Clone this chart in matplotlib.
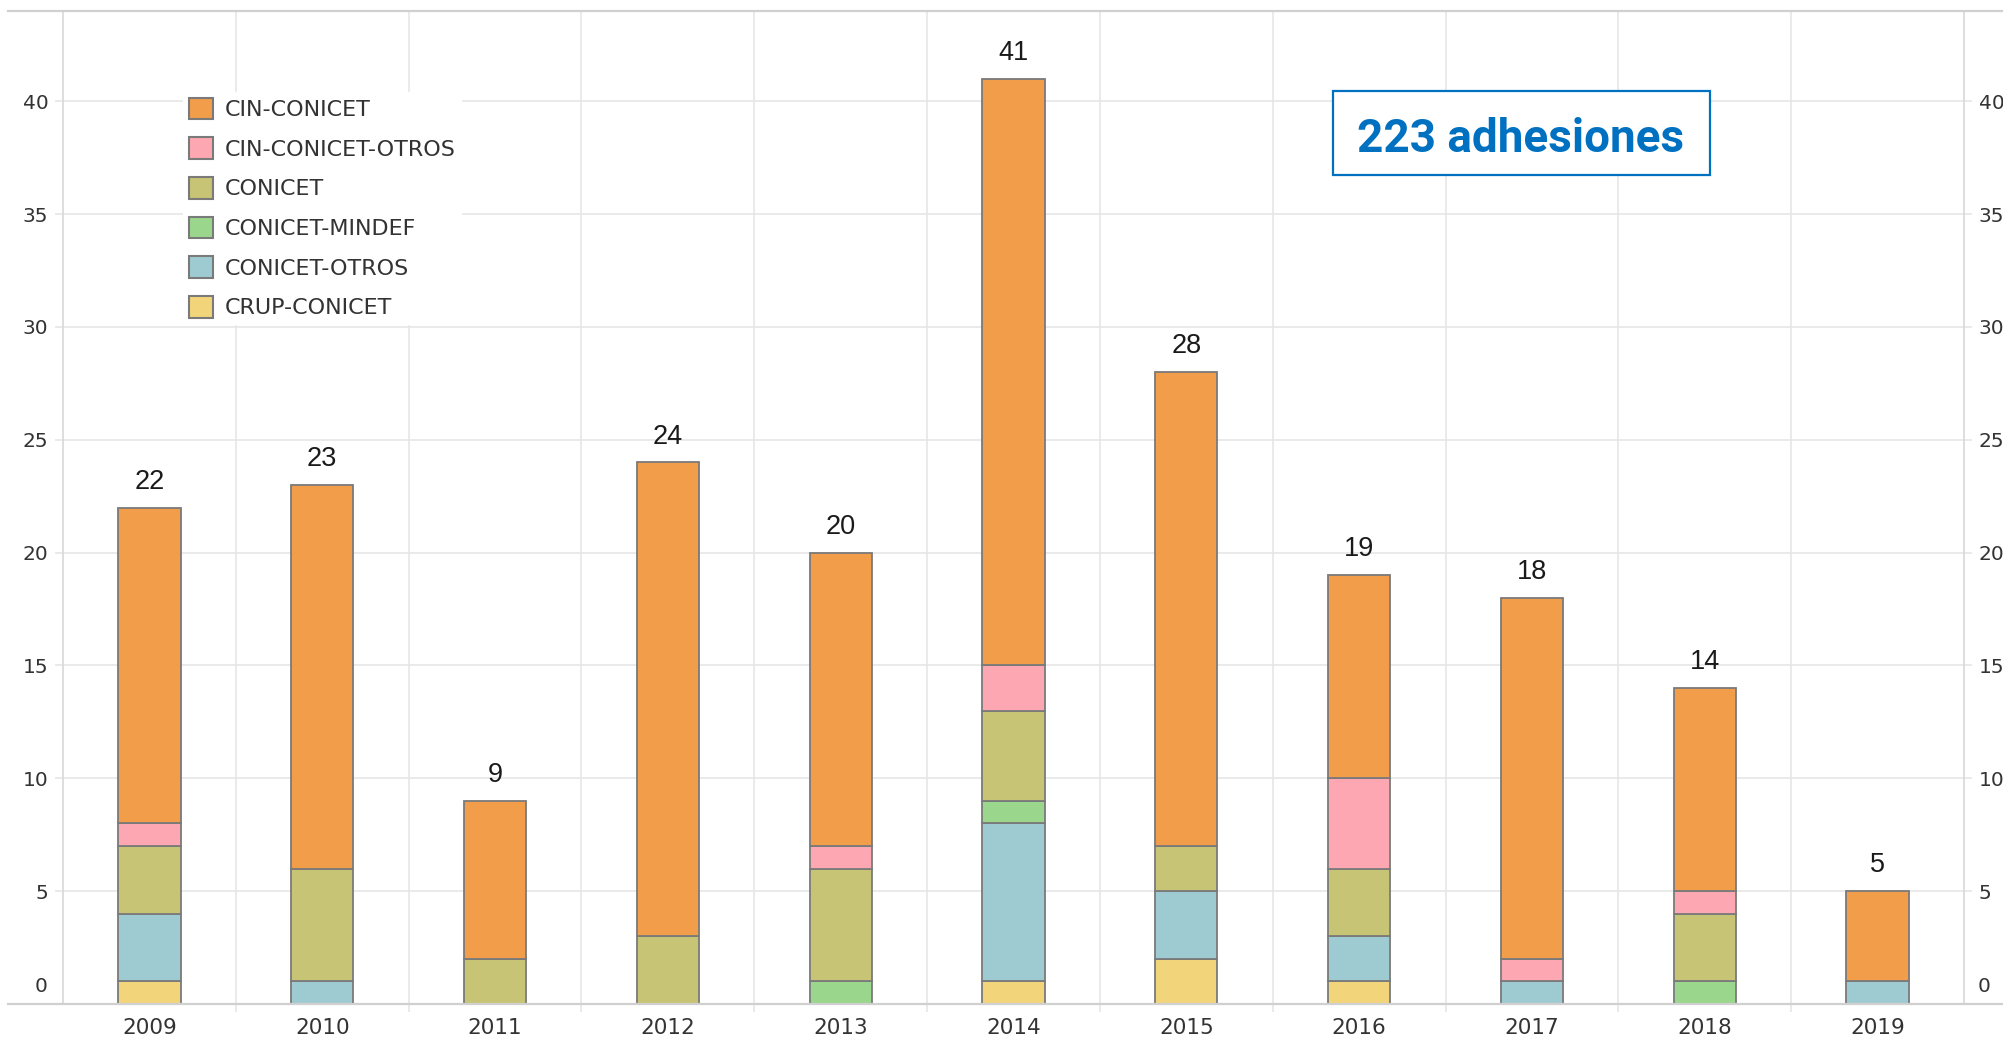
import matplotlib.pyplot as plt
from matplotlib.patches import Patch, Rectangle
from matplotlib.lines import Line2D
import numpy as np

anios = ['2009', '2010', '2011', '2012', '2013', '2014', '2015', '2016', '2017', '2018', '2019']

# orden de apilado: de abajo hacia arriba
crup_conicet = [1, 0, 0, 0, 0, 1, 2, 1, 0, 0, 0]
conicet_otros = [3, 1, 0, 0, 0, 7, 3, 2, 1, 0, 1]
conicet_mindef = [0, 0, 0, 0, 1, 1, 0, 0, 0, 1, 0]
conicet = [3, 5, 2, 3, 5, 4, 2, 3, 0, 3, 0]
cin_conicet_otros = [1, 0, 0, 0, 1, 2, 0, 4, 1, 1, 0]
cin_conicet = [14, 17, 7, 21, 13, 26, 21, 9, 16, 9, 4]

series = [
    ('CRUP-CONICET', crup_conicet, '#F2D57A'),
    ('CONICET-OTROS', conicet_otros, '#9ECBD1'),
    ('CONICET-MINDEF', conicet_mindef, '#9AD68C'),
    ('CONICET', conicet, '#C7C475'),
    ('CIN-CONICET-OTROS', cin_conicet_otros, '#FDA7B2'),
    ('CIN-CONICET', cin_conicet, '#F29D4A'),
]

FUENTE = ['DejaVu Sans']
W, H = 2003, 1041
fig = plt.figure(figsize=(W / 100, H / 100), dpi=100)
ax = fig.add_axes([63 / W, (H - 1004) / H, (1964 - 63) / W, (1004 - 11) / H])

x = np.arange(len(anios))
base = np.zeros(len(anios))
for nombre, vals, color in series:
    vals = np.array(vals)
    ax.bar(x, vals, width=0.36, bottom=base, color=color, edgecolor='#7a7a7a',
           linewidth=1.3, zorder=3)
    base = base + vals

for i, total in enumerate(base):
    ax.annotate(f'{int(total)}', (x[i], total), xytext=(0, 13.5), textcoords='offset points',
                ha='center', va='baseline', fontsize=19.5, color='#1a1a1a',
                family=['Liberation Sans', 'DejaVu Sans'])

ax.set_xlim(-0.5, len(anios) - 0.5)
ax.set_ylim(0, 44)

# grilla
yt = np.arange(0, 45, 5)
ax.set_yticks(yt)
ax.set_yticklabels(['' if v == 0 else str(v) for v in yt])
ax.yaxis.grid(True, color='#e6e6e6', linewidth=1.2, zorder=0)
ax.vlines(x[:-1] + 0.5, -0.35, 44, color='#e6e6e6', linewidth=1.2, zorder=0, clip_on=False)

ax.set_xticks(x)
ax.set_xticklabels(anios)
ax.tick_params(axis='x', length=0, pad=10, labelsize=15.5, labelcolor='#333333')
ax.tick_params(axis='y', which='both', left=True, right=True, labelleft=True, labelright=True,
               length=6, color='#e6e6e6', width=1.2, pad=4.5, labelsize=14.5, labelcolor='#333333')
for lab in ax.get_xticklabels() + ax.get_yticklabels():
    lab.set_family(FUENTE)

# el cero va un poco por encima de la linea base
for xf, ha in [(48 / W, 'right'), (1978 / W, 'left')]:
    fig.text(xf, 1 - 987 / H, '0', ha=ha, va='center', fontsize=14.5, color='#333333',
             family=FUENTE)

for s in ['top', 'bottom']:
    ax.spines[s].set_visible(False)
for s in ['left', 'right']:
    ax.spines[s].set_color('#d8d8d8')
    ax.spines[s].set_linewidth(1.2)

for yp in [11, 1004]:
    fig.add_artist(Line2D([8 / W, 1.0], [1 - yp / H, 1 - yp / H], color='#d0d0d0', linewidth=1.6))

# leyenda
handles = [Patch(facecolor=c, edgecolor='#7a7a7a', linewidth=1.5, label=n) for n, v, c in series[::-1]]
leg = ax.legend(handles=handles, loc='upper left', bbox_to_anchor=(183 / W, 1 - 92 / H),
                bbox_transform=fig.transFigure, frameon=True, fancybox=False, framealpha=1,
                edgecolor='white', facecolor='white', handlelength=1.12,
                handleheight=1.12, labelspacing=0.78, handletextpad=0.52, borderpad=0.25,
                borderaxespad=0, prop={'family': FUENTE, 'size': 16})
for t in leg.get_texts():
    t.set_color('#333333')
leg.set_zorder(5)

# recuadro total
fig.add_artist(Rectangle((1333 / W, 1 - 175 / H), (1710 - 1333) / W, (175 - 91) / H,
                         transform=fig.transFigure, facecolor='white', edgecolor='#0070C0',
                         linewidth=1.6, zorder=6))
fig.text(1521 / W, 1 - 139 / H, '223 adhesiones', ha='center', va='center', fontsize=33,
         fontweight='bold', color='#0070C0', zorder=7,
         family=['Roboto', 'Liberation Sans'])

fig.savefig('out.png', dpi=100)
